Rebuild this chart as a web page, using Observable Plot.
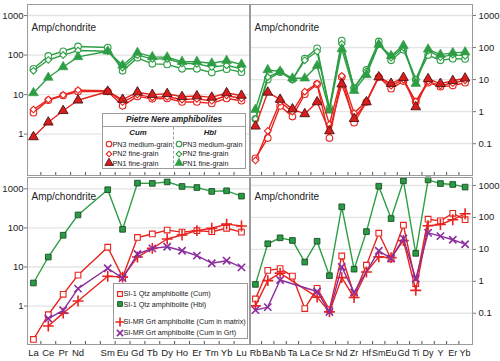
<!DOCTYPE html>
<html><head><meta charset="utf-8">
<script src="https://cdn.jsdelivr.net/npm/d3@7"></script>
<script src="https://cdn.jsdelivr.net/npm/@observablehq/plot@0.6"></script>
<style>
body{margin:0;background:#fff;font-family:"Liberation Sans",Arial,sans-serif;}
#wrap{position:relative;width:500px;height:361px;overflow:hidden;background:#fff;}
#wrap svg.p{position:absolute;overflow:visible;}
.legend{position:absolute;box-sizing:border-box;background:#fff;border:1px solid #9a9a9a;font-size:7.2px;color:#222;line-height:1;}
.legend .it{position:absolute;white-space:nowrap;}
</style></head><body><div id="wrap"></div>
<script>
// ---------- categories / tick labels ----------
const reeSlots = ["La","Ce","Pr","Nd","","Sm","Eu","Gd","Tb","Dy","Ho","Er","Tm","Yb","Lu"];
const reeElements = ["La","Ce","Pr","Nd","Sm","Eu","Gd","Tb","Dy","Ho","Er","Tm","Yb","Lu"];
const spiderElements = ["Rb","Ba","Nb","Ta","La","Ce","Sr","Nd","Zr","Hf","Sm","Eu","Gd","Ti","Dy","Y","Er","Yb"];
const yTicksLeft = [1, 10, 100, 1000];
const yTicksRight = [0.1, 1, 10, 100, 1000];
const yLabel = "Amp/chondrite";

// ---------- Pietre Nere (top panels) ----------
const pn3CumREE = [3.5, 7.2, 9.5, 12, 12, 5.2, 9, 7.8, 8, 6.5, 6.5, 6, 8, 7];
const pn2CumREE = [4.2, 7.5, 9.8, 13, 12.5, 6.5, 10, 8.5, 8.8, 7.5, 7.8, 7, 9.5, 8];
const pn1CumREE = [0.85, 2.0, 3.9, 7.2, 12, 7.5, 11.5, 10, 10.5, 8.8, 9.2, 8.5, 11, 9.5];
const pn3HblREE = [45, 95, 125, 165, 155, 40, 85, 60, 58, 45, 45, 36, 44, 37];
const pn2HblREE = [40, 75, 100, 130, 125, 48, 100, 80, 80, 62, 60, 50, 55, 45];
const pn1HblREE = [11, 27, 50, 90, 125, 55, 115, 90, 88, 68, 68, 62, 72, 58];

const pn3CumSp = [0.035, 0.15, 1.5, 0.7, 3.5, 7.2, 0.15, 12, 0.45, 2.0, 12, 5.2, 9, 2.0, 8, 6, 6.5, 8];
const pn2CumSp = [0.03, 0.25, 2.0, 1.0, 4.2, 7.5, 0.4, 13, 0.9, 2.1, 12.5, 6.5, 10, 2.1, 8.8, 6.5, 7.8, 9.5];
const pn1CumSp = [0.35, 4.0, 2.4, 1.2, 0.85, 2.0, 0.25, 7.2, 0.6, 2.0, 12, 7.5, 11.5, 1.4, 10.5, 7.5, 9.2, 11];
const pn3HblSp = [0.6, 10, 17, 10, 45, 95, 1.3, 165, 5.5, 20, 155, 40, 85, 10, 58, 40, 45, 44];
const pn2HblSp = [0.6, 12, 18, 10, 40, 75, 1.2, 130, 5.5, 18, 125, 48, 100, 10, 80, 50, 60, 55];
const pn1HblSp = [1.15, 20, 18, 11, 11, 27, 1.1, 90, 4.5, 14, 125, 55, 115, 7.5, 88, 60, 68, 72];

// ---------- SI samples (bottom panels) ----------
const si1CumREE = [0.14, 0.6, 2.0, 6.2, 32, 5.5, 57, 70, 88, 78, 85, 80, 98, 78];
const si1HblREE = [3.9, 18, 65, 215, 950, 92, 1400, 1380, 1500, 1150, 1080, 860, 890, 650];
const simrMatrixREE = [null, 0.31, 0.66, 1.35, 5.8, 5.5, 18, 30, 52, 66, 85, 98, 125, 112];
const simrGrtREE = [null, 0.48, 0.78, 2.8, 9.3, 5.2, 21.5, 30, 33, 26, 19.5, 12.5, 14.5, 9.8];

const si1CumSp = [0.28, 2.2, 2.5, 1.45, 0.14, 0.6, 0.13, 6.2, 0.38, 3.2, 32, 5.0, 57, 0.85, 88, 78, 135, 85];
const si1HblSp = [0.8, 15, 23, 19, 4.0, 18, 1.5, 215, 2.4, 36, 950, 92, 1400, 7.5, 1500, 1150, 1080, 890];
const simrMatrixSp = [0.17, 1.05, 1.8, null, null, 0.32, 0.11, 1.3, 0.31, 1.95, 5.8, 5.5, 19, 0.52, 55, 60, 85, 130];
const simrGrtSp = [0.125, 0.155, 1.1, null, null, 0.48, 0.11, 2.8, 0.45, null, 9, 5.2, 22, 1.2, 33, 26, 20, 14.5];

// ---------- legend labels ----------
const pnTitle = "Pietre Nere amphibolites";
const pnHeaders = ["Cum", "Hbl"];
const pnLabels = ["PN3 medium-grain", "PN2 fine-grain", "PN1 fine-grain"];
const siLabels = ["SI-1 Qtz amphibolite (Cum)", "SI-1 Qtz amphibolite (Hbl)", "SI-MR Grt amphibolite (Cum in matrix)", "SI-MR Grt amphibolite (Cum in Grt)"];

// ---------- styles ----------
const RED = "#e8231e", GREEN = "#2e9e45", PURPLE = "#8a2e9e";
const st = {
  cumCircle: {line: RED, symbol: "circle", r: 3.3, fill: "white", stroke: RED, sw: 1.1},
  cumDiamond: {line: RED, symbol: "diamond2", r: 3.0, fill: "white", stroke: RED, sw: 1.1},
  cumTri: {line: RED, symbol: "triangle", r: 3.6, fill: "#d91c1c", stroke: "#4a1414", sw: 0.9},
  hblCircle: {line: GREEN, symbol: "circle", r: 3.3, fill: "white", stroke: GREEN, sw: 1.1},
  hblDiamond: {line: GREEN, symbol: "diamond2", r: 3.0, fill: "white", stroke: GREEN, sw: 1.1},
  hblTri: {line: GREEN, symbol: "triangle", r: 3.6, fill: GREEN, stroke: GREEN, sw: 0.6},
  openSq: {line: RED, symbol: "square", r: 3.2, fill: "white", stroke: RED, sw: 1.1},
  fillSq: {line: GREEN, symbol: "square", r: 3.2, fill: "#2a9a45", stroke: "#1b4f26", sw: 0.9},
  plus: {line: RED, symbol: "plus", r: 3.6, fill: "none", stroke: RED, sw: 1.6},
  times: {line: PURPLE, symbol: "times", r: 3.4, fill: "none", stroke: PURPLE, sw: 1.6}
};

const wrap = document.getElementById("wrap");

function panel(o) {
  const marks = [];
  marks.push(Plot.gridY(o.yTicks, {stroke: "#e4e4e4", strokeOpacity: 1, strokeWidth: 1.3}));
  const mids = d3.range(o.slots.length - 1).map(i => i + 0.5);
  marks.push(Plot.axisX({anchor: "bottom", ticks: mids, tickSize: 3, dy: -3, tickFormat: () => "", stroke: "#555"}));
  if (o.showX) {
    marks.push(Plot.axisX({anchor: "bottom", ticks: d3.range(o.slots.length).filter(i => o.slots[i]),
      tickFormat: i => o.slots[i], tickSize: 0, tickPadding: 5, fontSize: o.fsX, fill: "#222"}));
  }
  marks.push(Plot.axisY({anchor: o.yAnchor, ticks: o.yTicks, tickFormat: d => String(d), tickSize: 3,
    tickPadding: o.yAnchor === "left" ? 1 : 3, fontSize: 9.5, fill: "#222", stroke: "#777"}));
  for (const s of o.series) {
    const data = o.labels.map((el, i) => ({x: o.slots.indexOf(el), y: s.values[i]})).filter(d => d.y != null);
    marks.push(Plot.line(data, {x: "x", y: "y", stroke: s.style.line, strokeWidth: 1.4}));
    marks.push(Plot.dot(data, {x: "x", y: "y", symbol: s.style.symbol, r: s.style.r, fill: s.style.fill,
      stroke: s.style.stroke, strokeWidth: s.style.sw}));
  }
  marks.push(Plot.text([yLabel], {frameAnchor: "top-left", dx: 4, dy: o.labelDy, fontSize: 10, textAnchor: "start", fill: "#222"}));
  marks.push(Plot.frame({stroke: "#9a9a9a"}));
  const svg = Plot.plot({
    width: o.width, height: o.height,
    marginLeft: o.ml, marginRight: o.mr, marginTop: o.mt, marginBottom: o.mb,
    x: {type: "linear", domain: o.xDomain, label: null},
    y: {type: "log", domain: o.yDomain, label: null},
    style: {fontFamily: "Liberation Sans, Arial, sans-serif", fontSize: "10px", background: "transparent", overflow: "visible"},
    marks
  });
  svg.classList.add("p");
  svg.style.left = o.left + "px";
  svg.style.top = o.top + "px";
  wrap.appendChild(svg);
}

const reeDomain = [-0.4, 14.54];
const spDomain = [-0.4, 17.6];

panel({left: 0, top: 0, width: 250, height: 176, ml: 27, mr: 1, mt: 4, mb: 1,
  xDomain: reeDomain, yDomain: [0.09, 1900], yTicks: yTicksLeft, yAnchor: "left",
  slots: reeSlots, labels: reeElements, showX: false, labelDy: 19,
  series: [
    {values: pn3HblREE, style: st.hblCircle}, {values: pn2HblREE, style: st.hblDiamond}, {values: pn1HblREE, style: st.hblTri},
    {values: pn3CumREE, style: st.cumCircle}, {values: pn2CumREE, style: st.cumDiamond}, {values: pn1CumREE, style: st.cumTri}
  ]});

panel({left: 249, top: 0, width: 251, height: 176, ml: 1, mr: 28, mt: 4, mb: 1,
  xDomain: spDomain, yDomain: [0.0102, 2200], yTicks: yTicksRight, yAnchor: "right",
  slots: spiderElements, labels: spiderElements, showX: false, labelDy: 19,
  series: [
    {values: pn3HblSp, style: st.hblCircle}, {values: pn2HblSp, style: st.hblDiamond}, {values: pn1HblSp, style: st.hblTri},
    {values: pn3CumSp, style: st.cumCircle}, {values: pn2CumSp, style: st.cumDiamond}, {values: pn1CumSp, style: st.cumTri}
  ]});

panel({left: 0, top: 176, width: 250, height: 185, ml: 27, mr: 1, mt: 1, mb: 17,
  xDomain: reeDomain, yDomain: [0.104, 1950], yTicks: yTicksLeft, yAnchor: "left",
  slots: reeSlots, labels: reeElements, showX: true, fsX: 9.5, labelDy: 15,
  series: [
    {values: si1HblREE, style: st.fillSq}, {values: si1CumREE, style: st.openSq},
    {values: simrMatrixREE, style: st.plus}, {values: simrGrtREE, style: st.times}
  ]});

panel({left: 249, top: 176, width: 251, height: 185, ml: 1, mr: 28, mt: 1, mb: 17,
  xDomain: spDomain, yDomain: [0.0105, 1780], yTicks: yTicksRight, yAnchor: "right",
  slots: spiderElements, labels: spiderElements, showX: true, fsX: 9, labelDy: 15,
  series: [
    {values: si1HblSp, style: st.fillSq}, {values: si1CumSp, style: st.openSq},
    {values: simrMatrixSp, style: st.plus}, {values: simrGrtSp, style: st.times}
  ]});

// ---------- legends ----------
const symMap = {circle: d3.symbolCircle, diamond2: d3.symbolDiamond2, triangle: d3.symbolTriangle,
  square: d3.symbolSquare, plus: d3.symbolPlus, times: d3.symbolTimes};
function marker(s, scale = 0.85) {
  const r = s.r * scale;
  const p = d3.symbol(symMap[s.symbol], Math.PI * r * r)();
  return `<svg width="10" height="10" viewBox="-5 -5 10 10" style="display:block"><path d="${p}" fill="${s.fill}" stroke="${s.stroke}" stroke-width="${s.sw}"/></svg>`;
}
function item(parent, html, left, top, extra = "") {
  const d = document.createElement("div");
  d.className = "it";
  d.style.left = left + "px";
  d.style.top = top + "px";
  if (extra) d.style.cssText += extra;
  d.innerHTML = html;
  parent.appendChild(d);
  return d;
}

const lg1 = document.createElement("div");
lg1.className = "legend";
Object.assign(lg1.style, {left: "102px", top: "113px", width: "144px", height: "56px"});
wrap.appendChild(lg1);
item(lg1, pnTitle, 0, 2, "right:0;text-align:center;font-weight:bold;font-style:italic;font-size:8.2px;");
item(lg1, "", 0, 11.5, "right:0;border-top:1px solid #a0a0a0;height:0;");
item(lg1, "", 70, 13, "bottom:0;border-left:1px dashed #a0a0a0;width:0;");
item(lg1, pnHeaders[0], 0, 15, "width:70px;text-align:center;font-weight:bold;font-style:italic;font-size:7.8px;");
item(lg1, pnHeaders[1], 71, 15, "width:72px;text-align:center;font-weight:bold;font-style:italic;font-size:7.8px;");
const cumStyles = [st.cumCircle, st.cumDiamond, st.cumTri];
const hblStyles = [st.hblCircle, st.hblDiamond, st.hblTri];
pnLabels.forEach((lab, i) => {
  const y = 25 + i * 9.6;
  item(lg1, marker(cumStyles[i]), 0.5, y);
  item(lg1, lab, 9.5, y + 1.5);
  item(lg1, marker(hblStyles[i]), 71, y);
  item(lg1, lab, 79.5, y + 1.5);
});

const lg2 = document.createElement("div");
lg2.className = "legend";
Object.assign(lg2.style, {left: "113px", top: "283px", width: "135px", height: "56px"});
wrap.appendChild(lg2);
const siStyles = [st.openSq, st.fillSq, st.plus, st.times];
const siRows = [4.5, 15, 32.5, 43.5];
siLabels.forEach((lab, i) => {
  item(lg2, marker(siStyles[i]), 0.5, siRows[i]);
  item(lg2, lab, 9.5, siRows[i] + 1.5);
});
</script></body></html>
